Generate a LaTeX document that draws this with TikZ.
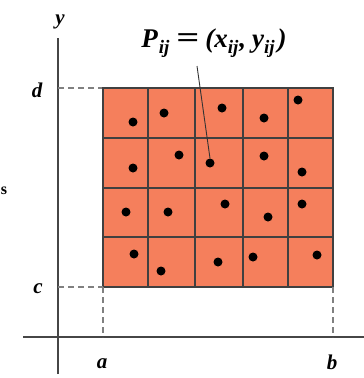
\documentclass[tikz,border=0pt]{standalone}
\usepackage{graphicx}
\usepackage{fontspec}
\setmainfont{Liberation Serif}
\definecolor{cellfill}{RGB}{245,127,92}
\definecolor{axisgray}{RGB}{70,70,70}
\newcommand{\lowsub}[1]{\raisebox{-6pt}{\fontsize{19}{19}\selectfont #1}}
\begin{document}
\begin{tikzpicture}[x=1pt,y=-1pt,
  axisline/.style={line width=1.8pt,draw=axisgray},
  guide/.style={line width=1.8pt,draw=gray,dash pattern=on 6pt off 4pt},
  gridline/.style={line width=1.3pt,draw=black!75},
  pt/.style={circle,fill=black,inner sep=0pt,minimum size=9pt},
  lbl/.style={font=\fontsize{21}{24}\selectfont\bfseries\itshape,inner sep=0pt}]
\useasboundingbox (0,0) rectangle (364,378);
% region
\fill[cellfill] (103,88) rectangle (333,287);
\foreach \x in {148,195,243,288} \draw[gridline] (\x,88) -- (\x,287);
\foreach \y in {138,188,237} \draw[gridline] (103,\y) -- (333,\y);
\draw[gridline] (103,88) rectangle (333,287);
% axes
\coordinate (yb) at (58,374);
\coordinate (yt) at (58,38);
\coordinate (xl) at (23,337);
\coordinate (xr) at (364,337);
\draw[axisline] (yb) -- (yt);
\draw[axisline] (xl) -- (xr);
% guides
\coordinate (dA) at (58,88);  \coordinate (dR) at (102,88);
\coordinate (cA) at (58,287); \coordinate (cR) at (103,287);
\coordinate (aX) at (103,337); \coordinate (bR) at (333,287); \coordinate (bX) at (333,337);
\draw[guide] (dA) -- (dR);
\draw[guide] (cA) -- (cR);
\draw[guide] (cR) -- (aX);
\draw[guide] (bR) -- (bX);
% points
\node[pt] (p11) at (133,122) {};
\node[pt] (p12) at (164,113) {};
\node[pt] (p13) at (222,108) {};
\node[pt] (p14) at (264,118) {};
\node[pt] (p15) at (298,100) {};
\node[pt] (p21) at (133,168) {};
\node[pt] (p22) at (179,155) {};
\node[pt] (p23) at (210,163) {};
\node[pt] (p24) at (264,156) {};
\node[pt] (p25) at (302,172) {};
\node[pt] (p31) at (126,212) {};
\node[pt] (p32) at (168,212) {};
\node[pt] (p33) at (225,204) {};
\node[pt] (p34) at (268,217) {};
\node[pt] (p35) at (302,204) {};
\node[pt] (p41) at (134,254) {};
\node[pt] (p42) at (161,271) {};
\node[pt] (p43) at (218,262) {};
\node[pt] (p44) at (253,257) {};
\node[pt] (p45) at (317,255) {};
% labels
\node[lbl] (ly) at (60,22) {y};
\node[lbl] (ld) at (37,90) {d};
\node[lbl] (lc) at (38,289) {c};
\node[lbl] (la) at (102,364) {a};
\node[lbl] (lb) at (332,362) {b};
\node[lbl,font=\fontsize{16}{18}\selectfont\bfseries] (ls) at (4,191) {s};
\node[lbl,anchor=base,font=\fontsize{27}{28}\selectfont\bfseries\itshape] (lp) at (214,47) {P\kern1pt\lowsub{ij}\hspace{7pt}\textup{\scalebox{1.5}[1.1]{=}}\hspace{6pt}(x\lowsub{ij}\kern1pt,\hspace{6pt}y\lowsub{ij}\kern3pt)};
\coordinate (lead) at (197,66);
\draw[line width=0.9pt,black!80] (lead) -- (p23.north);
\end{tikzpicture}
\end{document}
